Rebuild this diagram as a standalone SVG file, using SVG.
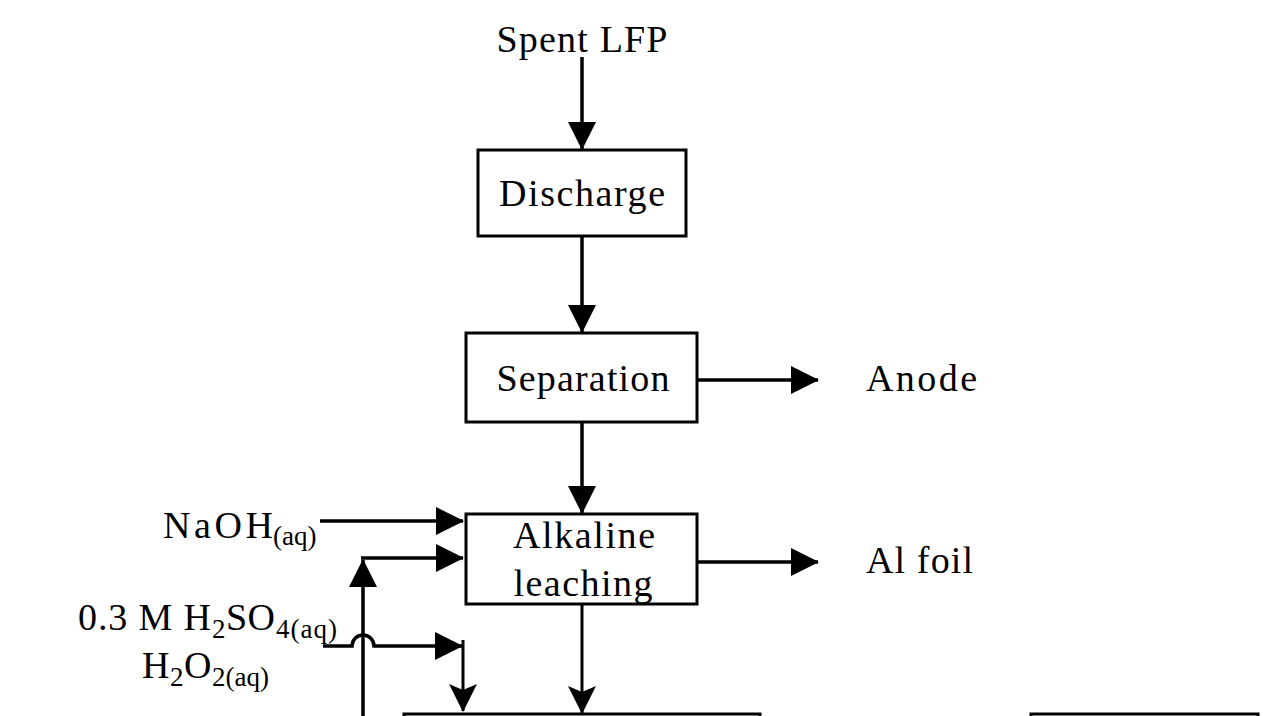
<svg xmlns="http://www.w3.org/2000/svg" width="1263" height="716" viewBox="0 0 1263 716">
  <style>
    .t { font-family: "Liberation Serif", "Times New Roman", serif; font-size: 38px; fill: #000; }
    .s { font-size: 27px; }
    .box { fill: #fff; stroke: #000; stroke-width: 3; }
    .ln { fill: none; stroke: #000; stroke-width: 3.5; }
  </style>
  <defs>
    <marker id="ah" markerUnits="userSpaceOnUse" markerWidth="28" markerHeight="28" viewBox="0 0 28 28" refX="27" refY="14" orient="auto">
      <path d="M0,0 L28,14 L0,28 z" fill="#000"/>
    </marker>
    <marker id="ah2" markerUnits="userSpaceOnUse" markerWidth="28" markerHeight="28" viewBox="0 0 28 28" refX="27" refY="14" orient="auto">
      <path d="M0,0 L28,14 L0,28 L6,14 z" fill="#000"/>
    </marker>
  </defs>
  <rect width="1263" height="716" fill="#fff"/>

  <g id="connectors">
    <path class="ln" d="M582,57 V149" marker-end="url(#ah)"/>
    <path class="ln" d="M582,236 V332" marker-end="url(#ah)"/>
    <path class="ln" d="M582,422 V513" marker-end="url(#ah)"/>
    <path class="ln" d="M582,604 V713" marker-end="url(#ah2)" style="stroke-width:3"/>
    <path class="ln" d="M697,380 H818" marker-end="url(#ah)"/>
    <path class="ln" d="M697,562 H818" marker-end="url(#ah)"/>
    <path class="ln" d="M320,521 H463" marker-end="url(#ah)"/>
    <path class="ln" d="M363,716 V560" marker-end="url(#ah)"/>
    <path class="ln" d="M361,558 H463" marker-end="url(#ah)"/>
    <path class="ln" d="M323,646 H352 A11,11 0 0 1 374,646 H462" marker-end="url(#ah)"/>
    <path class="ln" d="M463,640 V711" marker-end="url(#ah2)" style="stroke-width:3"/>
  </g>

  <g id="spent-lfp">
    <text class="t" x="582" y="52" text-anchor="middle" textLength="171">Spent LFP</text>
  </g>

  <g id="discharge">
    <rect class="box" x="478" y="150" width="208" height="86"/>
    <text class="t" x="582" y="206" text-anchor="middle" textLength="166">Discharge</text>
  </g>

  <g id="separation">
    <rect class="box" x="466" y="333" width="231" height="89"/>
    <text class="t" x="583" y="391" text-anchor="middle" textLength="173">Separation</text>
  </g>

  <g id="anode">
    <text class="t" x="866" y="391" textLength="111">Anode</text>
  </g>

  <g id="alkaline-leaching">
    <rect class="box" x="466" y="514" width="231" height="90"/>
    <text class="t" x="584" y="548" text-anchor="middle" textLength="142">Alkaline</text>
    <text class="t" x="583" y="596" text-anchor="middle" textLength="139">leaching</text>
  </g>

  <g id="al-foil">
    <text class="t" x="866" y="573" textLength="107">Al foil</text>
  </g>

  <g id="naoh">
    <text class="t" x="163" y="538"><tspan textLength="110">NaOH</tspan><tspan class="s" x="273" y="545">(aq)</tspan></text>
  </g>

  <g id="h2so4">
    <text class="t" x="78" y="630"><tspan textLength="133">0.3 M H</tspan><tspan class="s" x="212" y="638">2</tspan><tspan x="226" y="630" textLength="49">SO</tspan><tspan class="s" x="276" y="638" textLength="61">4(aq)</tspan></text>
  </g>

  <g id="h2o2">
    <text class="t" x="142" y="678"><tspan>H</tspan><tspan class="s" x="170" y="686">2</tspan><tspan x="184" y="678">O</tspan><tspan class="s" x="212" y="686">2(aq)</tspan></text>
  </g>

  <g id="bottom-left">
    <rect class="box" x="404" y="714" width="356" height="40"/>
  </g>
  <g id="bottom-right">
    <rect class="box" x="1031" y="714" width="227" height="40"/>
  </g>
</svg>
